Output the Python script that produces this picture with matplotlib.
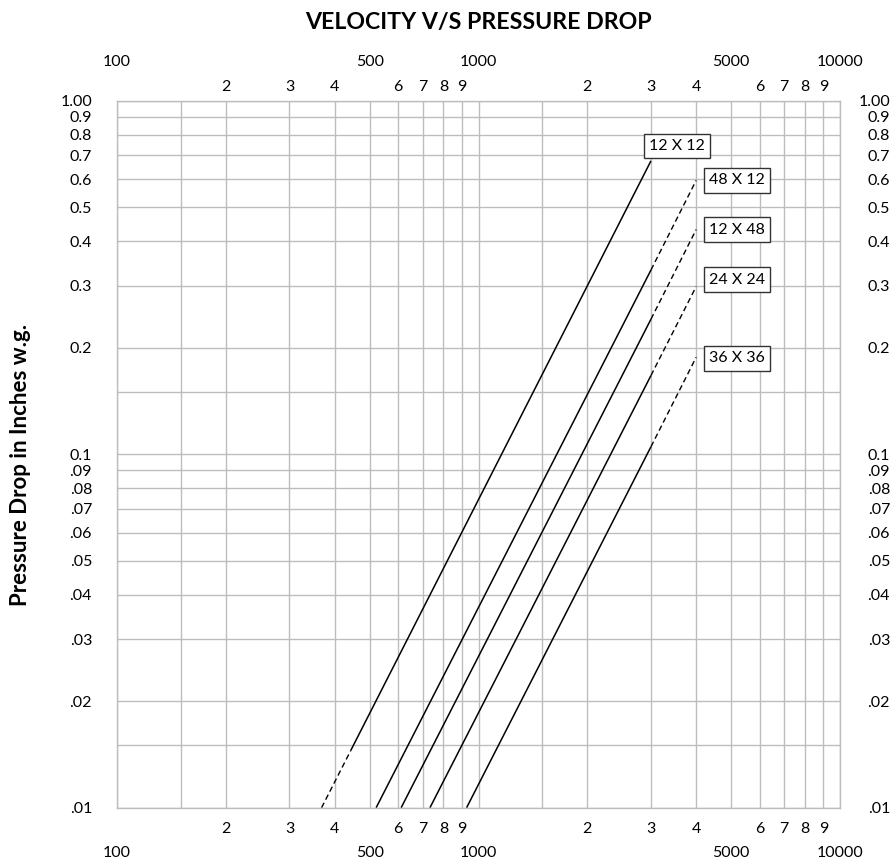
import matplotlib
matplotlib.use("Agg")
import matplotlib.pyplot as plt

# ---------------- data ----------------
title = "VELOCITY V/S PRESSURE DROP"
ylabel = "Pressure Drop in Inches w.g."

sizes = ["12 X 12", "48 X 12", "12 X 48", "24 X 24", "36 X 36"]
solid_v = [[443, 3000], [521, 3000], [611, 3000], [734, 3000], [927, 3000]]
solid_p = [[0.0145, 0.676], [0.010, 0.332], [0.010, 0.241], [0.010, 0.167], [0.010, 0.105]]
dash_v = [[368, 443], [3000, 4000], [3000, 4000], [3000, 4000], [3000, 4000]]
dash_p = [[0.010, 0.0145], [0.332, 0.595], [0.241, 0.432], [0.167, 0.298], [0.105, 0.188]]

grid_mult = [1, 1.5, 2, 3, 4, 5, 6, 7, 8, 9]
x_decades = [100, 1000]
y_decades = [0.01, 0.1]
x_digit_mult = [2, 3, 4, 6, 7, 8, 9]
x_major = [100, 500, 1000, 5000, 10000]
x_major_labels = ["100", "500", "1000", "5000", "10000"]
y_labels_top = ["0.1", "", "0.2", "0.3", "0.4", "0.5", "0.6", "0.7", "0.8", "0.9"]
y_labels_low = [".01", "", ".02", ".03", ".04", ".05", ".06", ".07", ".08", ".09"]

# ---------------- figure ----------------
plt.rcParams["font.family"] = ["Lato", "DejaVu Sans"]
W, H = 894, 859
fig = plt.figure(figsize=(W / 100, H / 100), dpi=100)
L, R, T, B = 117, 840, 100.7, 807.7
ax = fig.add_axes([L / W, 1 - B / H, (R - L) / W, (B - T) / H])
ax.set_xscale("log")
ax.set_yscale("log")
ax.set_xlim(100, 10000)
ax.set_ylim(0.01, 1.0)

gcol = "#BDBDBD"
for s in ax.spines.values():
    s.set_color(gcol)
    s.set_linewidth(1.0)

# x ticks (grid + digit labels)
xt, xl = [], []
for d in x_decades:
    for m in grid_mult:
        xt.append(d * m)
        xl.append(str(m) if m in x_digit_mult else "")
xt.append(10000)
xl.append("")
ax.set_xticks(xt)
ax.set_xticklabels(xl)
ax.xaxis.set_minor_locator(matplotlib.ticker.NullLocator())

# y ticks
yt, yl = [], []
for d, labs in zip(y_decades, [y_labels_low, y_labels_top]):
    for m, lab in zip(grid_mult, labs):
        yt.append(d * m)
        yl.append(lab)
yt.append(1.0)
yl.append("1.00")
ax.set_yticks(yt)
ax.set_yticklabels(yl)
ax.yaxis.set_minor_locator(matplotlib.ticker.NullLocator())

fs = 11.5
ax.tick_params(axis="x", length=0, labelsize=fs, labelbottom=True, pad=10)
ax.tick_params(axis="y", length=0, labelsize=fs, pad=18)
ax.grid(True, which="major", color=gcol, linewidth=1.0)
ax.set_axisbelow(True)

# top row of digit labels
topd = ax.secondary_xaxis("top")
topd.set_xticks(xt)
topd.set_xticklabels(xl)
topd.xaxis.set_minor_locator(matplotlib.ticker.NullLocator())
topd.tick_params(length=0, labelsize=fs, pad=5)
topd.spines["top"].set_visible(False)

# right-hand y labels (right aligned)
secy = ax.secondary_yaxis("right")
secy.set_yticks(yt)
secy.set_yticklabels(yl)
secy.yaxis.set_minor_locator(matplotlib.ticker.NullLocator())
secy.tick_params(length=0, labelsize=fs, pad=36)
secy.spines["right"].set_visible(False)
for lab in secy.get_yticklabels():
    lab.set_horizontalalignment("right")

# second row of x labels (top & bottom)
for loc, pad in (("bottom", 27.5), ("top", 22.5)):
    sec = ax.secondary_xaxis(loc)
    sec.set_xticks(x_major)
    sec.set_xticklabels(x_major_labels)
    sec.xaxis.set_minor_locator(matplotlib.ticker.NullLocator())
    sec.tick_params(length=0, labelsize=fs, pad=pad)
    sec.spines[loc].set_visible(False)

# lines
for i in range(len(sizes)):
    ax.plot(solid_v[i], solid_p[i], color="black", linewidth=1.1, solid_capstyle="butt")
    ax.plot(dash_v[i], dash_p[i], color="black", linewidth=1.0, linestyle=(0, (4, 2.5)))

# labels in boxes
offsets = {"12 X 12": (26, 15), "48 X 12": (41, 0), "12 X 48": (41, 0),
           "24 X 24": (41, 7), "36 X 36": (41, -1)}
for i, name in enumerate(sizes):
    xv = solid_v[i][-1] if name == "12 X 12" else dash_v[i][-1]
    yv = solid_p[i][-1] if name == "12 X 12" else dash_p[i][-1]
    ax.annotate(name, (xv, yv), xytext=offsets[name], textcoords="offset pixels",
                ha="center", va="center", fontsize=fs,
                bbox=dict(boxstyle="square,pad=0.33", fc="white", ec="#333333", lw=1.0))

ax.set_title(title, fontsize=16.7, fontweight="bold", y=1 + (T - 22.5) / (B - T),
             va="center", pad=0)
ax.set_ylabel(ylabel, fontsize=16, fontweight="bold")
ax.yaxis.set_label_coords((21 - L) / (R - L), 1 - (465 - T) / (B - T))
ax.yaxis.label.set_va("center")

fig.savefig("out.png", dpi=100)
